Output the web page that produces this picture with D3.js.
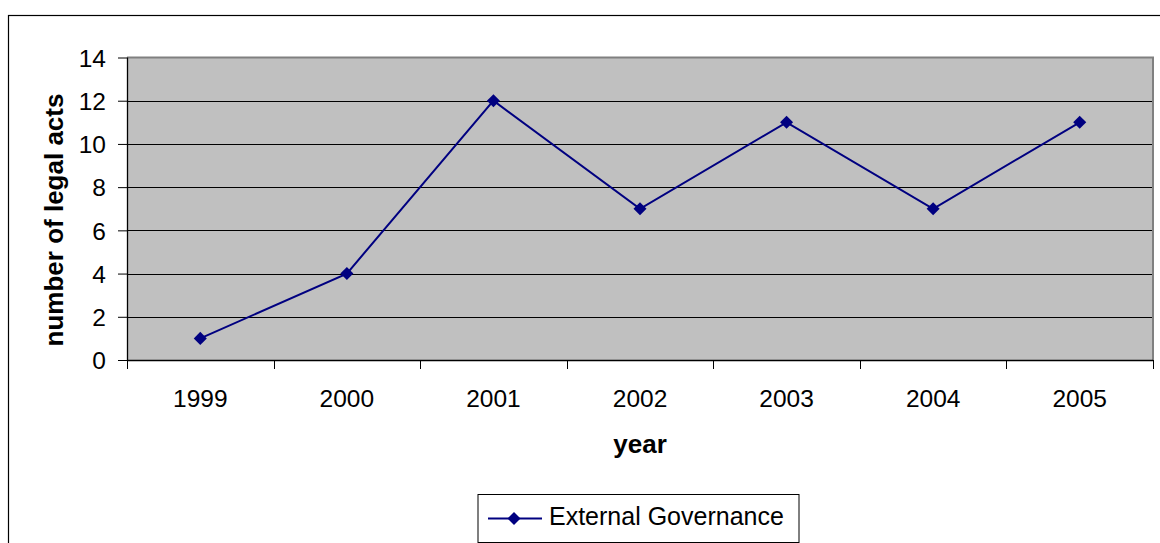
<!DOCTYPE html>
<html><head><meta charset="utf-8">
<script src="https://cdn.jsdelivr.net/npm/d3@7"></script>
<style>body{margin:0;background:#fff}svg{display:block}text{font-family:"Liberation Sans",Arial,sans-serif}</style>
</head><body>
<script>
const years = ["1999","2000","2001","2002","2003","2004","2005"];
const values = [1,4,12,7,11,7,11];
const yTicks = [0,2,4,6,8,10,12,14];
const seriesName = "External Governance";
const xTitle = "year";
const yTitle = "number of legal acts";

const W=1160,H=543;
const svg=d3.select("body").append("svg").attr("width",W).attr("height",H);
svg.append("rect").attr("x",8.5).attr("y",15.5).attr("width",1300).attr("height",700).attr("fill","#fff").attr("stroke","#000").attr("stroke-width",1.2);

const L=127,R=1153,T=57.5,B=360;
const x=d3.scaleBand().domain(years).range([L,R]);
const y=d3.scaleLinear().domain([0,14]).range([B,T]);

svg.append("rect").attr("x",L).attr("y",T).attr("width",R-L).attr("height",B-T).attr("fill","#c0c0c0");
svg.append("g").selectAll("line").data(yTicks.filter(d=>d>0&&d<14)).join("line")
  .attr("x1",L).attr("x2",R).attr("y1",d=>Math.round(y(d))+0.5).attr("y2",d=>Math.round(y(d))+0.5)
  .attr("stroke","#000").attr("stroke-width",1);
svg.append("path").attr("d",`M${L},${T}H${R}V${B}`).attr("fill","none").attr("stroke","#808080").attr("stroke-width",2);

const ya=svg.append("g").attr("transform",`translate(${L},0)`)
  .call(d3.axisLeft(y).tickValues(yTicks).tickSize(9).tickPadding(12).tickFormat(d3.format("d")));
ya.select(".domain").attr("stroke","#000").attr("stroke-width",1.3).attr("d",`M0.5,${T}V${B}`);
ya.selectAll(".tick line").attr("stroke","#000");
ya.selectAll("text").attr("font-size",24.5).attr("fill","#000").attr("dy","0.36em").attr("font-family","Liberation Sans, Arial, sans-serif");

const xa=svg.append("g").attr("transform",`translate(0,${B})`)
  .call(d3.axisBottom(x).tickSize(0).tickPadding(0));
xa.select(".domain").attr("stroke","#000").attr("stroke-width",1.3).attr("d",`M${L},0.5H${R}`);
xa.selectAll(".tick text").attr("font-size",24.5).attr("fill","#000").attr("y",47).attr("dy",0).attr("font-family","Liberation Sans, Arial, sans-serif");
const bounds=years.map(d=>x(d)).concat([R]);
xa.append("g").selectAll("line").data(bounds).join("line")
  .attr("x1",d=>Math.round(d)+0.5).attr("x2",d=>Math.round(d)+0.5).attr("y1",0).attr("y2",9).attr("stroke","#000");

svg.append("text").attr("x",W/2+60).attr("y",453).attr("text-anchor","middle").attr("font-weight","bold").attr("font-size",26).text(xTitle);
svg.append("text").attr("transform",`translate(63,220) rotate(-90)`).attr("text-anchor","middle").attr("font-weight","bold").attr("font-size",26).text(yTitle);

const cx=d=>x(d)+x.bandwidth()/2;
const line=d3.line().x((d,i)=>cx(years[i])).y(d=>y(d));
svg.append("path").datum(values).attr("d",line).attr("fill","none").attr("stroke","#000080").attr("stroke-width",2);
svg.append("g").selectAll("path").data(values).join("path")
  .attr("transform",(d,i)=>`translate(${cx(years[i])},${y(d)}) rotate(45)`)
  .attr("d",d3.symbol().type(d3.symbolSquare).size(85)).attr("fill","#000080");

const lg=svg.append("g");
lg.append("rect").attr("x",478).attr("y",494.5).attr("width",321).attr("height",48).attr("fill","#fff").attr("stroke","#000").attr("stroke-width",1);
lg.append("line").attr("x1",488).attr("x2",542).attr("y1",518.5).attr("y2",518.5).attr("stroke","#000080").attr("stroke-width",2);
lg.append("path").attr("transform","translate(514,518.5) rotate(45)").attr("d",d3.symbol().type(d3.symbolSquare).size(85)).attr("fill","#000080");
lg.append("text").attr("x",549).attr("y",525).attr("font-size",25).attr("fill","#000").text(seriesName);
</script>
</body></html>
